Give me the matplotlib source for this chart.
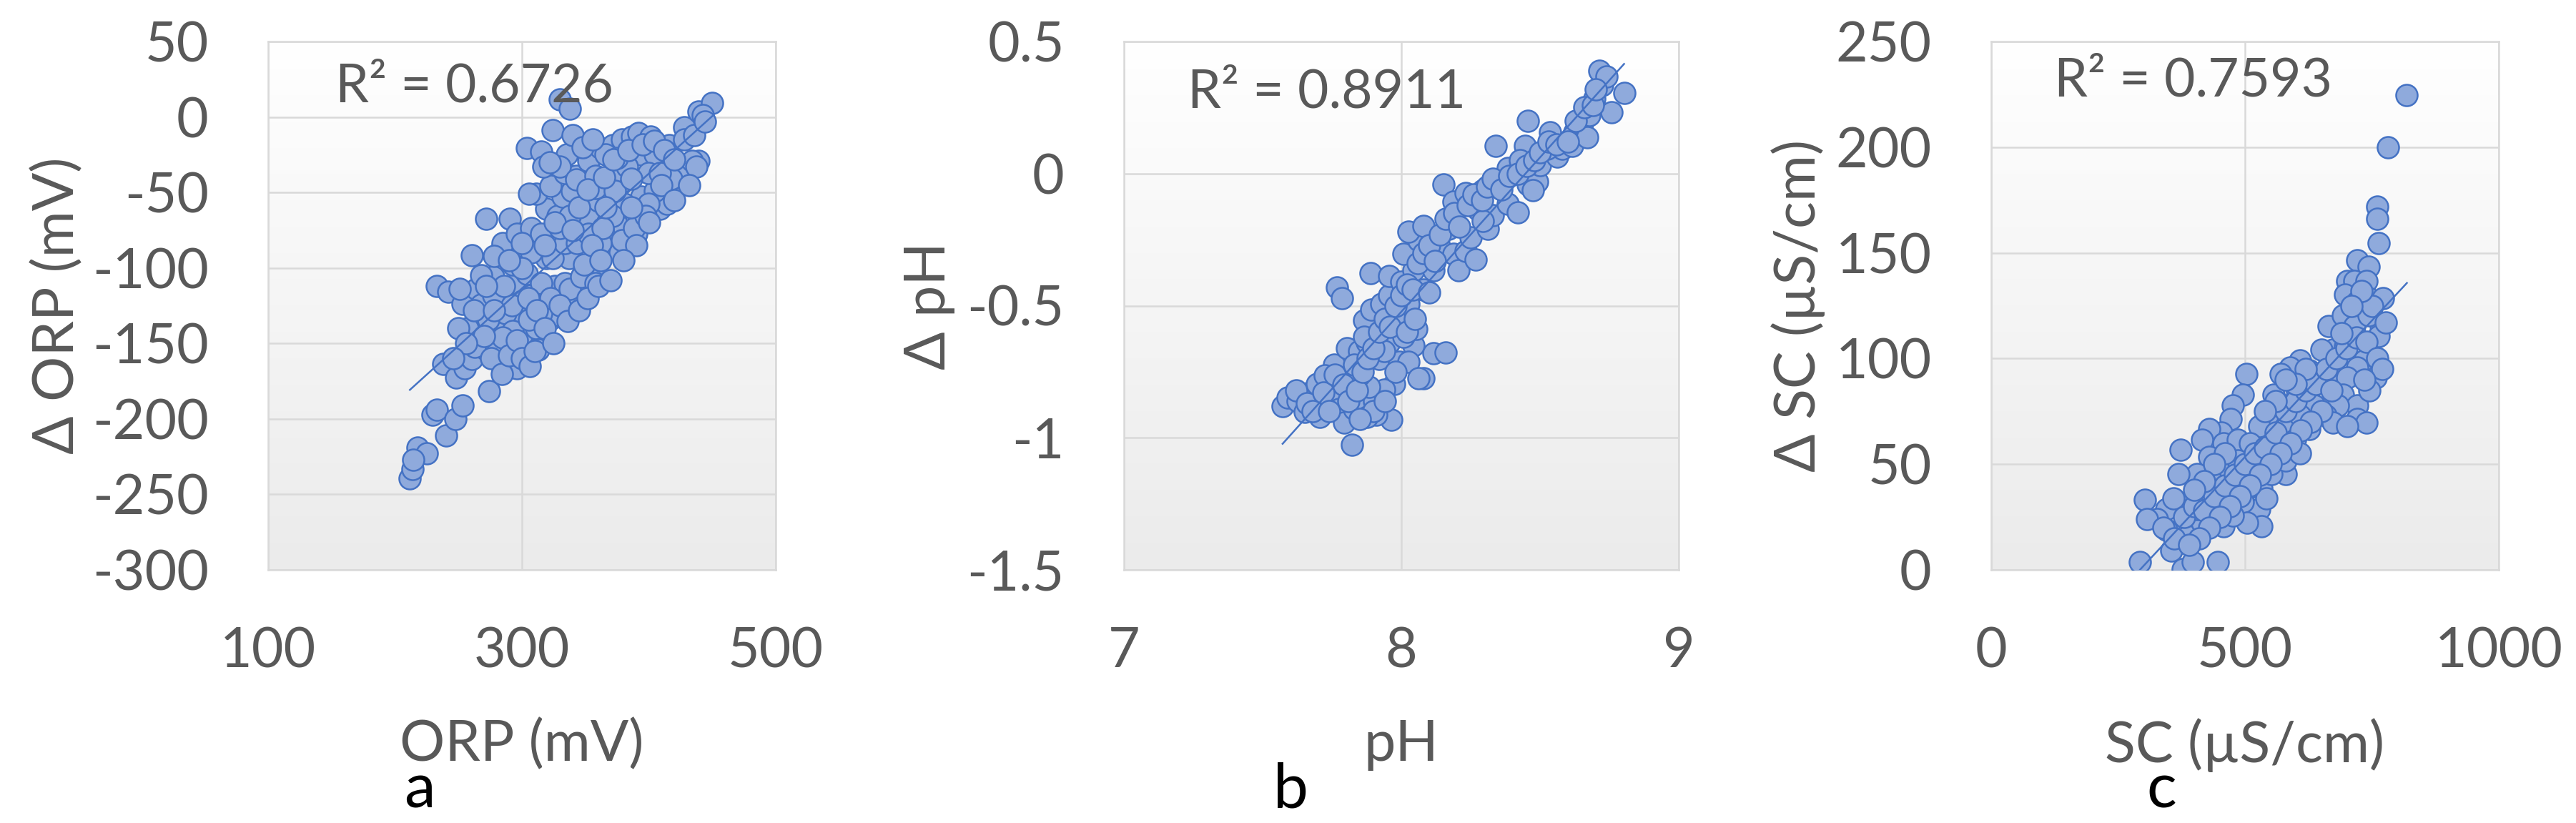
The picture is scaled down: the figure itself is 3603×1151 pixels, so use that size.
import numpy as np
import matplotlib
matplotlib.use('Agg')
import matplotlib.pyplot as plt
from matplotlib.colors import LinearSegmentedColormap

# ORP (mV) vs delta ORP (mV)
orp_x = [211.7, 213.6, 218.0, 225.0, 214.5, 229.5, 233.0, 240.0, 247.5, 253.0,
         238.0, 248.4, 255.0, 274.0, 260.6, 233.0, 241.8, 253.0, 260.6, 271.8,
         290.6, 285.0, 264.0, 267.6, 265.7, 271.8, 281.0, 277.5, 288.7, 281.0,
         296.0, 298.0, 288.7, 296.0, 305.6, 300.0, 311.0, 315.0, 303.8, 319.0,
         296.0, 307.5, 322.0, 331.0, 342.0, 351.5, 359.0, 326.0, 334.0, 313.0,
         292.5, 283.0, 262.6, 257.0, 251.0, 285.0, 296.0, 307.5, 319.0, 328.0,
         332.0, 339.4, 347.0, 352.6, 360.0, 371.4, 377.0, 367.6, 380.8, 390.0,
         399.5, 408.9, 414.5, 420.0, 427.7, 435.0, 438.9, 424.0, 315.0, 326.0,
         337.0, 311.0, 305.6, 322.5, 333.8, 343.0, 358.0, 378.9, 371.4, 394.0,
         405.0, 303.8, 315.0, 317.0, 324.5, 330.0, 337.6, 335.7, 330.0, 343.0,
         352.6, 362.0, 371.4, 379.0, 386.5, 392.0, 401.6, 394.0, 383.0, 405.0,
         416.0, 427.7, 439.0, 450.0, 442.5, 433.9, 437.7, 365.7, 358.0, 375.0,
         399.5, 418.0, 408.9, 268.1, 277.5, 286.9, 300.0, 315.0, 324.4, 333.8,
         343.2, 330.0, 337.6, 307.5, 292.5, 300.0, 315.0, 292.5, 305.6, 285.0,
         273.7, 322.5, 337.6, 347.0, 358.2, 348.8, 362.0, 352.6, 380.8, 390.0,
         399.5, 371.4, 363.8, 373.2, 386.4, 378.9, 388.3, 397.7,
         262.0, 270.0, 276.0, 284.0, 290.0, 296.0, 300.0, 306.0, 310.0, 292.0,
         286.0, 300.0, 305.0, 312.0, 318.0, 325.0, 330.0, 336.0, 345.0, 352.0,
         360.0, 370.0, 268.0, 278.0, 290.0, 318.0, 326.0, 340.0, 355.0, 362.0,
         345.0, 352.0, 365.0, 372.0, 384.0, 395.0, 404.0, 412.0, 420.0, 428.0,
         436.0, 444.0, 410.0, 400.0, 390.0, 380.0, 386.0, 420.0, 432.0, 366.0,
         322.0, 340.0, 348.0, 356.0, 250.0, 256.0, 246.0, 278.0, 272.0]
orp_dy = [-239.4, -233.0, -219.0, -223.0, -227.0, -197.0, -194.0, -211.0, -200.0, -191.0,
          -163.5, -172.6, -166.6, -181.8, -160.4, -112.0, -116.0, -124.0, -91.7, -67.4,
          -67.4, -85.6, -114.0, -128.0, -140.0, -154.0, -150.0, -106.0, -118.0, -134.0,
          -110.0, -130.0, -166.6, -166.6, -150.0, -144.0, -140.0, -124.0, -104.0, -93.7,
          -93.7, -118.0, -134.0, -132.0, -118.0, -108.0, -106.0, -112.0, -110.0, -154.0,
          -154.0, -162.4, -152.4, -140.0, -114.0, -83.6, -77.5, -73.5, -61.0, -65.4,
          -53.0, -49.0, -71.4, -65.4, -55.6, -81.6, -89.7, -69.4, -73.5, -65.4,
          -67.4, -61.0, -57.3, -49.0, -41.0, -33.0, -29.0, -39.0, -77.5, -85.6,
          -93.7, -51.0, -51.0, -45.5, -37.0, -39.0, -47.0, -43.0, -37.0, -53.0,
          -49.0, -20.8, -22.9, -33.0, -8.7, 11.5, 5.5, -24.9, -33.0, -41.5,
          -29.0, -20.8, -18.8, -15.0, -12.8, -10.7, -12.8, -24.9, -33.0, -24.9,
          -18.8, -6.7, 3.4, 9.5, 1.4, -29.0, -33.0, -24.9, -39.0, -27.0,
          -37.0, -41.0, -37.0, -124.1, -118.0, -130.0, -122.0, -110.0, -93.7, -83.6,
          -83.6, -73.5, -65.4, -89.7, -97.8, -83.6, -130.0, -142.0, -134.0, -146.0,
          -134.0, -120.0, -114.0, -106.0, -110.0, -97.8, -83.6, -77.5, -57.3, -77.5,
          -57.3, -65.4, -73.5, -49.0, -41.0, -81.6, -73.5, -65.4,
          -128.0, -145.0, -160.0, -170.0, -158.0, -148.0, -160.0, -165.0, -155.0, -125.0,
          -112.0, -100.0, -120.0, -128.0, -140.0, -150.0, -125.0, -135.0, -128.0, -120.0,
          -112.0, -108.0, -105.0, -92.0, -95.0, -85.0, -70.0, -75.0, -85.0, -95.0,
          -60.0, -48.0, -40.0, -28.0, -22.0, -18.0, -16.0, -22.0, -28.0, -15.0,
          -12.0, -3.0, -45.0, -70.0, -85.0, -95.0, -60.0, -55.0, -45.0, -60.0,
          -30.0, -12.0, -20.0, -15.0, -140.0, -150.0, -160.0, -128.0, -112.0]

# pH vs delta pH
ph_x = [7.572, 7.590, 7.625, 7.652, 7.670, 7.697, 7.715, 7.741, 7.759, 7.777,
        7.795, 7.822, 7.830, 7.866, 7.902, 7.964, 7.973, 7.938, 7.884, 7.848,
        7.786, 7.759, 7.804, 7.848, 7.875, 7.920, 7.955, 7.991, 8.045, 8.080,
        8.116, 8.161, 8.054, 8.027, 8.009, 7.911, 7.866, 7.893, 7.929, 7.955,
        7.973, 8.027, 7.768, 7.786, 7.888, 7.955, 8.000, 8.045, 8.009, 8.062,
        8.027, 8.080, 8.116, 8.134, 8.170, 8.187, 8.205, 8.232, 8.268, 8.250,
        8.152, 8.187, 8.232, 8.277, 8.294, 8.312, 8.330, 8.348, 8.384, 8.419,
        8.410, 8.384, 8.339, 8.446, 8.455, 8.455, 8.490, 8.500, 8.535, 8.562,
        8.580, 8.624, 8.616, 8.651, 8.678, 8.696, 8.723, 8.714, 8.740, 8.758,
        8.803, 8.669, 8.526, 8.428, 8.473, 8.294, 8.259, 8.116, 8.080, 7.866,
        7.830, 7.723, 7.706, 7.911, 7.875, 7.938, 8.062,
        7.62, 7.66, 7.68, 7.72, 7.74, 7.76, 7.79, 7.81, 7.84, 7.86,
        7.88, 7.90, 7.92, 7.94, 7.96, 7.98, 8.00, 8.02, 8.04, 8.06,
        8.08, 8.10, 8.12, 8.14, 8.16, 8.19, 8.21, 8.24, 8.26, 8.29,
        8.31, 8.33, 8.36, 8.39, 8.42, 8.45, 8.48, 8.50, 8.53, 8.56,
        8.60, 8.63, 8.66, 8.69, 8.70, 7.90, 7.94, 7.85, 8.02, 8.05,
        7.98, 8.10]
ph_dy = [-0.881, -0.849, -0.860, -0.901, -0.828, -0.797, -0.860, -0.786, -0.839, -0.891,
         -0.943, -1.027, -0.891, -0.881, -0.860, -0.933, -0.797, -0.818, -0.807, -0.765,
         -0.723, -0.723, -0.660, -0.671, -0.640, -0.702, -0.640, -0.713, -0.650, -0.776,
         -0.681, -0.676, -0.587, -0.713, -0.618, -0.587, -0.556, -0.514, -0.493, -0.461,
         -0.545, -0.493, -0.430, -0.472, -0.377, -0.388, -0.409, -0.367, -0.304, -0.252,
         -0.220, -0.199, -0.294, -0.262, -0.210, -0.304, -0.367, -0.294, -0.325, -0.241,
         -0.042, -0.105, -0.073, -0.136, -0.063, -0.210, -0.157, -0.042, -0.115, -0.147,
         0.010, 0.021, 0.105, 0.105, 0.199, -0.042, -0.031, 0.031, 0.157, 0.063,
         0.094, 0.157, 0.105, 0.189, 0.220, 0.283, 0.335, 0.388, 0.367, 0.231,
         0.304, 0.136, 0.094, 0.052, -0.063, -0.178, -0.105, -0.367, -0.440, -0.618,
         -0.723, -0.765, -0.922, -0.912, -0.922, -0.671, -0.776,
         -0.82, -0.87, -0.90, -0.83, -0.90, -0.76, -0.80, -0.86, -0.82, -0.75,
         -0.70, -0.66, -0.60, -0.55, -0.58, -0.50, -0.46, -0.42, -0.44, -0.34,
         -0.30, -0.27, -0.33, -0.23, -0.17, -0.15, -0.20, -0.12, -0.08, -0.10,
         -0.05, -0.02, -0.06, -0.01, 0.00, 0.03, 0.05, 0.08, 0.12, 0.11,
         0.12, 0.20, 0.25, 0.26, 0.32, -0.90, -0.86, -0.93, -0.60, -0.55,
         -0.75, -0.45]

# SC (uS/cm) vs delta SC (uS/cm)
sc_x = [819.0, 781.7, 760.6, 760.6, 763.0, 720.7, 744.0, 701.9, 716.0, 739.4,
        697.0, 720.7, 744.0, 772.3, 664.3, 692.5, 716.0, 767.6, 762.9, 673.7,
        650.2, 697.2, 734.7, 720.7, 758.2, 608.0, 589.2, 570.4, 626.8, 650.2,
        673.7, 701.9, 692.5, 720.7, 720.7, 739.4, 683.1, 659.6, 636.2, 603.3,
        579.8, 556.3, 551.6, 579.8, 608.0, 598.6, 626.8, 570.4, 542.3, 528.2,
        502.3, 495.3, 476.5, 471.8, 453.0, 429.6, 415.5, 457.7, 485.9, 509.4,
        532.9, 556.3, 579.8, 514.1, 500.0, 532.9, 528.2, 532.9, 495.3, 471.8,
        448.4, 457.7, 438.9, 429.6, 406.1, 373.2, 368.5, 392.0, 387.3, 345.1,
        326.3, 302.8, 307.5, 354.5, 377.9, 396.7, 293.4, 446.0, 415.5, 429.6,
        467.1, 485.9, 551.6, 542.3, 345.1, 359.2, 406.1, 504.7, 476.5, 579.8,
        608.0, 673.7, 701.9, 744.0, 777.0,
        340.0, 360.0, 380.0, 400.0, 420.0, 440.0, 460.0, 480.0, 500.0, 520.0,
        540.0, 560.0, 580.0, 600.0, 620.0, 640.0, 660.0, 680.0, 700.0, 720.0,
        740.0, 750.0, 730.0, 710.0, 690.0, 670.0, 650.0, 630.0, 610.0, 590.0,
        570.0, 550.0, 530.0, 510.0, 490.0, 470.0, 450.0, 430.0, 410.0, 390.0,
        620.0, 600.0, 580.0, 560.0, 540.0, 460.0, 440.0, 420.0, 400.0, 760.0,
        770.0, 745.0, 735.0]
sc_dy = [224.7, 200.0, 171.9, 166.2, 154.7, 146.6, 143.3, 136.8, 136.8, 136.8,
         130.2, 127.0, 128.6, 128.6, 115.5, 120.4, 115.5, 115.5, 110.6, 104.1,
         104.1, 105.7, 99.2, 95.9, 91.0, 99.2, 95.9, 92.6, 94.3, 91.0,
         92.6, 91.0, 82.8, 77.9, 71.4, 69.8, 77.9, 73.0, 77.9, 84.5,
         77.9, 82.8, 71.4, 68.1, 73.0, 61.6, 66.5, 58.3, 61.6, 68.1,
         92.6, 82.8, 77.9, 71.4, 64.9, 66.5, 61.6, 60.0, 61.6, 60.0,
         55.1, 51.8, 45.3, 46.9, 37.1, 38.7, 28.9, 20.8, 32.2, 38.7,
         30.6, 20.8, 45.3, 53.4, 45.3, 56.7, 45.3, 32.2, 15.8, 28.9,
         24.0, 33.0, 24.0, 9.3, 0.3, 3.6, 3.6, 3.6, 22.4, 38.7,
         48.5, 51.8, 45.3, 33.8, 19.1, 33.8, 28.9, 22.4, 25.7, 51.8,
         55.1, 69.8, 68.1, 120.4, 117.2,
         20.0, 15.0, 25.0, 30.0, 28.0, 35.0, 40.0, 45.0, 50.0, 55.0,
         58.0, 65.0, 75.0, 80.0, 85.0, 88.0, 95.0, 100.0, 105.0, 110.0,
         108.0, 125.0, 132.0, 125.0, 112.0, 85.0, 75.0, 70.0, 66.0, 60.0,
         55.0, 50.0, 45.0, 40.0, 35.0, 30.0, 25.0, 20.0, 15.0, 12.0,
         95.0, 88.0, 90.0, 80.0, 75.0, 55.0, 50.0, 42.0, 38.0, 100.0,
         95.0, 85.0, 90.0]

panels = [
    dict(x=orp_x, y=orp_dy, xlim=(100, 500), ylim=(-300, 50), xstep=200, ystep=50,
         xlabel='ORP (mV)', ylabel='Δ ORP (mV)', r2='R² = 0.6726', tag='a',
         rect=(375, 710), r2pos=(0.132, 0.886), tagx=587, ylabx=81, yfmt='{:.0f}'),
    dict(x=ph_x, y=ph_dy, xlim=(7, 9), ylim=(-1.5, 0.5), xstep=1, ystep=0.5,
         xlabel='pH', ylabel='Δ pH', r2='R² = 0.8911', tag='b',
         rect=(1572, 776), r2pos=(0.115, 0.875), tagx=1805, ylabx=1300, yfmt='{:g}'),
    dict(x=sc_x, y=sc_dy, xlim=(0, 1000), ylim=(0, 250), xstep=500, ystep=50,
         xlabel='SC (µS/cm)', ylabel='Δ SC (µS/cm)', r2='R² = 0.7593', tag='c',
         rect=(2785, 710), r2pos=(0.124, 0.896), tagx=3023, ylabx=2515, yfmt='{:.0f}'),
]

W, H = 3603, 1151
TOP, BOTTOM = 58, 797
plt.rcParams['font.family'] = ['Lato', 'DejaVu Sans']
plt.rcParams['axes.unicode_minus'] = False

fill = '#8FAADC'
edge = '#4472C4'
txt = '#595959'
grid = '#D9D9D9'
bg = LinearSegmentedColormap.from_list('bg', ['#FFFFFF', '#EBEBEB'])

fig = plt.figure(figsize=(W / 300, H / 300), dpi=300)

for p in panels:
    left, width = p['rect']
    ax = fig.add_axes([left / W, 1 - BOTTOM / H, width / W, (BOTTOM - TOP) / H])
    x = np.array(p['x'])
    y = np.array(p['y'])

    x0, x1 = p['xlim']
    y0, y1 = p['ylim']
    ax.imshow(np.linspace(0, 1, 256).reshape(-1, 1), cmap=bg, aspect='auto',
              extent=[x0, x1, y0, y1], zorder=0)

    ax.scatter(x, y, s=52, c=fill, edgecolors=edge, linewidths=0.6, zorder=3)

    # linear trendline over the data range
    k, b = np.polyfit(x, y, 1)
    xt = np.array([x.min(), x.max()])
    ax.plot(xt, k * xt + b, color=edge, lw=0.6, zorder=4)

    ax.set_xlim(x0, x1)
    ax.set_ylim(y0, y1)
    ax.set_xticks(np.arange(x0, x1 + 1e-9, p['xstep']))
    yt = np.arange(y0, y1 + 1e-9, p['ystep'])
    ax.set_yticks(yt)
    ax.set_yticklabels([p['yfmt'].format(v) for v in yt])
    ax.grid(True, color=grid, lw=0.6)
    ax.set_axisbelow(True)
    for s in ax.spines.values():
        s.set_color(grid)
        s.set_linewidth(0.6)
    ax.tick_params(length=0, labelsize=18.5, labelcolor=txt, pad=19)
    ax.tick_params(axis='y', pad=20)

    # axis titles at fixed spots below / left of the plot area
    ax.set_xlabel(p['xlabel'], fontsize=19, color=txt)
    ax.xaxis.set_label_coords(0.5, (BOTTOM - 1042) / (BOTTOM - TOP))
    ax.xaxis.label.set_verticalalignment('center')
    ax.set_ylabel(p['ylabel'], fontsize=19, color=txt)
    ax.yaxis.set_label_coords((p['ylabx'] - left) / width, 0.5)
    ax.yaxis.label.set_verticalalignment('center')

    ax.text(p['r2pos'][0], p['r2pos'][1], p['r2'], transform=ax.transAxes,
            fontsize=18, color=txt, va='baseline', ha='left', zorder=5)

    fig.text(p['tagx'] / W, 1 - 1129 / H, p['tag'], fontsize=21, color='black',
             ha='center', va='baseline')

fig.savefig('out.png', dpi=300, facecolor='white')
